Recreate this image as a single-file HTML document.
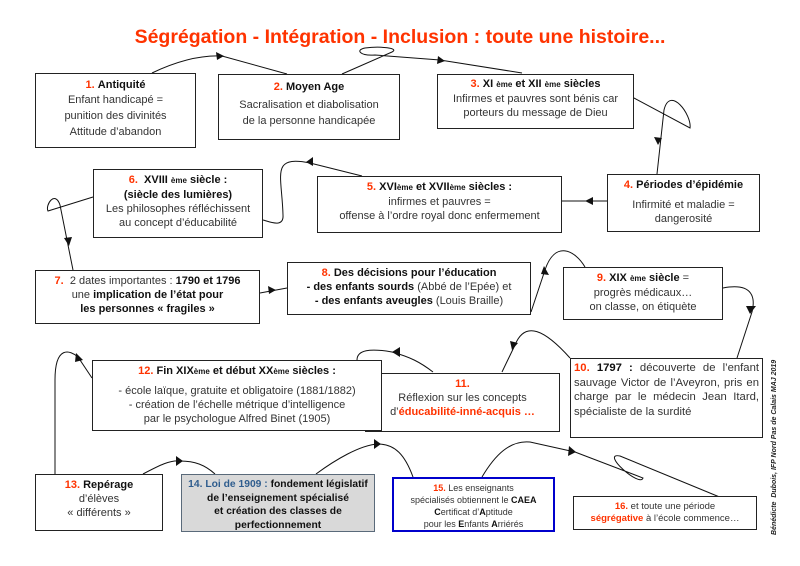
<!DOCTYPE html>
<html><head><meta charset="utf-8"><style>
*{margin:0;padding:0;box-sizing:border-box}
body{width:800px;height:566px;background:#fff;position:relative;overflow:hidden;font-family:"Liberation Sans",sans-serif;color:#333;}
.b{position:absolute;border:1.3px solid #222;background:#fff;text-align:center;font-size:11px;line-height:14px;padding-top:4px}
.r{color:#ff3300;font-weight:bold}
b{color:#111}
.s{font-size:8px}
svg{position:absolute;left:0;top:0}
h1{position:absolute;left:0;width:800px;top:26px;text-align:center;color:#ff3300;font-size:19.5px;font-weight:bold}
</style></head><body>
<h1>Ségrégation - Intégration - Inclusion : toute une histoire...</h1>
<svg width="800" height="566" viewBox="0 0 800 566" fill="none" stroke="#111" stroke-width="1">
<path d="M152 73 C175 62 200 55 222 56 L287 74"/>
<path d="M342 74 L392 52 C400 48 380 46 365 48 C355 50 360 56 375 55 L440 60 L522 73"/>
<path d="M634 98 L690 128 C692 115 670 85 664 110 L657 174"/>
<path d="M607 201 L562 201"/>
<path d="M362 176 L310 163 C270 155 282 175 283 215 C284 228 270 222 263 220"/>
<path d="M93 197 L48 211 C45 205 55 190 60 205 L73 270"/>
<path d="M260 293 L287 288"/>
<path d="M531 312 L545 270 C555 240 575 250 585 267"/>
<path d="M723 288 C755 282 755 300 752 312 L737 358"/>
<path d="M570 358 C545 330 525 320 515 345 L502 372"/>
<path d="M433 372 C420 362 410 357 392 352 C370 348 357 350 357 360"/>
<path d="M92 378 L78 357 C70 350 55 345 55 380 L55 474"/>
<path d="M143 474 C160 465 170 460 180 461 C195 461 205 465 215 474"/>
<path d="M316 474 C335 460 360 445 378 444 C395 444 405 455 413 477"/>
<path d="M482 477 C495 455 510 440 530 442 L575 452 L643 478 C640 488 600 452 620 456 L722 498"/>
<g fill="#111" stroke="none">
<polygon points="224,56 216,52 217,60"/>
<polygon points="445,61 438,56 437,64"/>
<polygon points="658,145 654,137 662,138"/>
<polygon points="585,201 593,197 593,205"/>
<polygon points="306,162 313,157 313,166"/>
<polygon points="69,246 64,238 72,237"/>
<polygon points="276,290 268,286 269,294"/>
<polygon points="544,266 541,274 549,275"/>
<polygon points="750,314 746,306 756,306"/>
<polygon points="512,350 510,341 518,343"/>
<polygon points="392,352 400,347 400,357"/>
<polygon points="76,353 75,362 83,360"/>
<polygon points="183,461 176,456 176,466"/>
<polygon points="381,444 374,439 374,449"/>
<polygon points="576,452 569,446 568,456"/>
</g>
</svg>
<div class="b" style="left:35px;top:73px;width:161px;height:75px"><span class="r">1.</span> <b>Antiquité</b><br><span style="line-height:16px">Enfant handicapé =<br>punition des divinités<br>Attitude d’abandon</span></div>
<div class="b" style="left:218px;top:74px;width:182px;height:66px;padding-top:5px"><span class="r">2.</span> <b>Moyen Age</b><div style="margin-top:3px;line-height:16px">Sacralisation et diabolisation<br>de la personne handicapée</div></div>
<div class="b" style="left:437px;top:74px;width:197px;height:55px;padding-top:2px"><span class="r">3.</span> <b>XI <span class="s">ème</span> et XII <span class="s">ème</span> siècles</b><br>Infirmes et pauvres sont bénis car<br>porteurs du message de Dieu</div>
<div class="b" style="left:607px;top:174px;width:153px;height:58px;padding-top:3px"><span class="r">4.</span> <b>Périodes d’épidémie</b><div style="margin-top:6px">Infirmité et maladie =<br>dangerosité</div></div>
<div class="b" style="left:317px;top:176px;width:245px;height:57px;padding-top:3px"><span class="r">5.</span> <b>XVI<span class="s">ème</span> et XVII<span class="s">ème</span> siècles :</b><br>infirmes et pauvres =<br>offense à l’ordre royal donc enfermement</div>
<div class="b" style="left:93px;top:169px;width:170px;height:69px;padding-top:3px"><span class="r">6.</span> &nbsp;<b>XVIII <span class="s">ème</span> siècle :<br>(siècle des lumières)</b><br>Les philosophes réfléchissent<br>au concept d’éducabilité</div>
<div class="b" style="left:35px;top:270px;width:225px;height:54px;padding-top:3px"><span class="r">7.</span> &nbsp;2 dates importantes : <b>1790 et 1796</b><br>une <b>implication de l’état pour<br>les personnes « fragiles »</b></div>
<div class="b" style="left:287px;top:262px;width:244px;height:53px;padding-top:3px"><span class="r">8.</span> <b>Des décisions pour l’éducation</b><br><b>- des enfants sourds</b> (Abbé de l’Epée) et<br><b>- des enfants aveugles</b> (Louis Braille)</div>
<div class="b" style="left:563px;top:267px;width:160px;height:53px;padding-top:3px"><span class="r">9.</span> <b>XIX <span class="s">ème</span> siècle</b> =<br>progrès médicaux…<br>on classe, on étiquète</div>
<div class="b" style="left:570px;top:358px;width:193px;height:80px;text-align:justify;padding:2px 3px 0 3px;font-size:11.3px;line-height:14.5px"><span class="r">10.</span> <b>1797 :</b> découverte de l’enfant sauvage Victor de l’Aveyron, pris en charge par le médecin Jean Itard, spécialiste de la surdité</div>
<div class="b" style="left:365px;top:373px;width:195px;height:59px;padding-top:3px"><span class="r">11.</span><br>Réflexion sur les concepts<br>d’<span class="r">éducabilité-inné-acquis …</span></div>
<div class="b" style="left:92px;top:360px;width:290px;height:71px;padding-top:3px"><span class="r">12.</span> <b>Fin XIX<span class="s">ème</span> et début XX<span class="s">ème</span> siècles :</b><div style="margin-top:5px">- école laïque, gratuite et obligatoire (1881/1882)<br>- création de l’échelle métrique d’intelligence<br>par le psychologue Alfred Binet (1905)</div></div>
<div class="b" style="left:35px;top:474px;width:128px;height:57px;padding-top:3px"><span class="r">13.</span> <b>Repérage</b><br>d’élèves<br>« différents »</div>
<div class="b" style="left:181px;top:474px;width:194px;height:58px;padding-top:3px;background:#d9d9d9;border-color:#5a6a7a;font-size:10.3px;line-height:13.5px"><span style="color:#2f5d8e;font-weight:bold">14. Loi de 1909 :</span> <b>fondement législatif<br>de l’enseignement spécialisé<br>et création des classes de<br>perfectionnement</b></div>
<div class="b" style="left:392px;top:477px;width:163px;height:55px;border:2px solid #0000cc;font-size:9px;line-height:12px;padding-top:3px"><span class="r">15.</span> Les enseignants<br>spécialisés obtiennent le <b>CAEA</b><br><b>C</b>ertificat d’<b>A</b>ptitude<br>pour les <b>E</b>nfants <b>A</b>rriérés</div>
<div class="b" style="left:573px;top:496px;width:184px;height:34px;font-size:9.5px;line-height:12px;padding-top:4px"><span class="r">16.</span> et toute une période<br><span class="r">ségrégative</span> à l’école commence…</div>
<div style="position:absolute;left:775px;top:446px;width:170px;margin-left:-85px;text-align:center;transform:rotate(-90deg);font-size:7px;font-style:italic;font-weight:bold;color:#222;white-space:nowrap;line-height:8px">Bénédicte &nbsp;Dubois, IFP Nord Pas de Calais MAJ 2019</div>
</body></html>
